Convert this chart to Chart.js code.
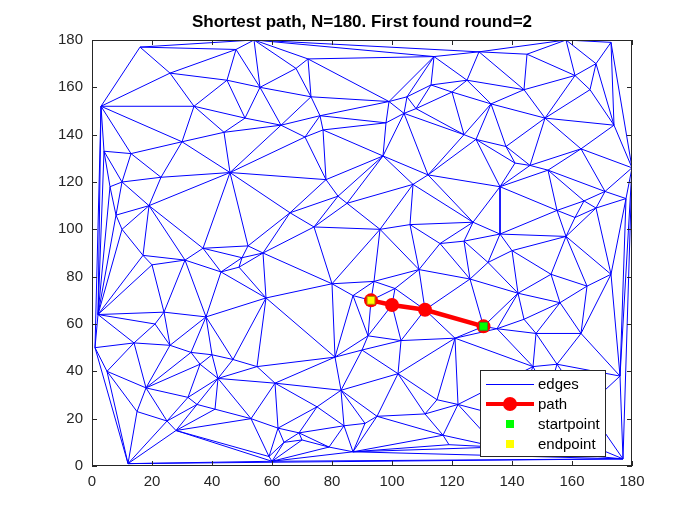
<!DOCTYPE html>
<html>
<head>
  <meta charset="utf-8">
  <title>Shortest path, N=180</title>
  <script src="https://cdn.jsdelivr.net/npm/chart.js"></script>
  <style>
    html, body { margin: 0; padding: 0; background: #fff; }
    #wrap { width: 700px; height: 525px; }
  </style>
</head>
<body>
<div id="wrap"><canvas id="graph"></canvas></div>

<script>
  // node positions
  const nodeX = [16,3,26,48,45,56,34,51,44,30,13,4,46,23,10,54,
    72,68,73,114,113,99,105,104,108,76,98,63,71,77,97,78,112,120,
    158,173,129,145,168,125,144,161,166,133,151,174,124,128,138,163,180,141,146,152,
    6,19,8,10,17,20,31,37,52,50,49,57,43,58,2,24,38,
    107,82,85,66,74,96,106,116,109,80,94,87,93,100,111,101,
    136,171,178,164,168,155,161,127,136,158,124,140,132,153,173,126,165,142,156,144,
    21,1,14,26,33,40,47,55,5,36,42,18,32,35,41,15,25,28,53,61,12,59,60,
    92,103,121,90,81,102,83,75,95,111,115,117,84,91,62,69,70,64,79,87,
    130.5,135,148,163,147,155,176,122,177,119,
    140,160,152,165,135];
  const nodeY = [177,152,166,176,163,160,152,147,141,137,132,133,124,122,120,180,
    172,168,156,173,161,154,156,149,151,148,145,144,139,142,131,121,123,158,
    180,179,175,174,170,163,159,165,159,153,147,144,140,138,135,134,126,128,127,125,
    118,110,106,100,89,85,87,92,93,88,84,90,82,71,64,65,63,
    119,114,111,107,101,100,102,94,83,77,78,72,70,68,66,75,
    118,116,113,112,109,108,105,103,98,97,95,91,86,81,81,79,76,73,69,62,
    60,50,52,51,48,47,45,42,40,43,37,33,29,26,24,23,19,15,20,35,1,4,2,
    55,53,54,49,46,39,32,25,21,22,28,13,17,18,16,14,11,10,8,6,
    59,58,56,56,42,43,38,26,3,9,
    20,12,30,25,8];

  // shortest path (end -> start)
  const pathX = [93, 100, 111, 130.5];
  const pathY = [70, 68, 66, 59];
  const startX = [130.5], startY = [59];
  const endX = [93], endY = [70];

  const xTicks = [0,20,40,60,80,100,120,140,160,180];
  const yTicks = [0,20,40,60,80,100,120,140,160,180];

  // Delaunay triangulation (Bowyer-Watson), like delaunay() in the original
  function triangulate(xs, ys) {
    const n = xs.length;
    const px = xs.slice(), py = ys.slice();
    const M = 1e4;
    px.push(-M, M, 0); py.push(-M, -M, M);
    let tris = [[n, n + 1, n + 2]];
    function inCirc(t, i) {
      const ax = px[t[0]], ay = py[t[0]], bx = px[t[1]], by = py[t[1]], cx = px[t[2]], cy = py[t[2]];
      const d = 2 * (ax * (by - cy) + bx * (cy - ay) + cx * (ay - by));
      const ux = ((ax*ax + ay*ay) * (by - cy) + (bx*bx + by*by) * (cy - ay) + (cx*cx + cy*cy) * (ay - by)) / d;
      const uy = ((ax*ax + ay*ay) * (cx - bx) + (bx*bx + by*by) * (ax - cx) + (cx*cx + cy*cy) * (bx - ax)) / d;
      const r2 = (ax - ux) ** 2 + (ay - uy) ** 2;
      return (px[i] - ux) ** 2 + (py[i] - uy) ** 2 < r2;
    }
    for (let i = 0; i < n; i++) {
      const bad = [], keep = [];
      for (const t of tris) (inCirc(t, i) ? bad : keep).push(t);
      const cnt = new Map();
      for (const t of bad) {
        for (const [a, b] of [[t[0], t[1]], [t[1], t[2]], [t[2], t[0]]]) {
          const k = a < b ? a + ',' + b : b + ',' + a;
          const e = cnt.get(k);
          if (e) e.c++; else cnt.set(k, { a, b, c: 1 });
        }
      }
      for (const e of cnt.values()) if (e.c === 1) keep.push([e.a, e.b, i]);
      tris = keep;
    }
    const seen = new Set(), edges = [];
    for (const t of tris) {
      if (t[0] >= n || t[1] >= n || t[2] >= n) continue;
      for (const [a, b] of [[t[0], t[1]], [t[1], t[2]], [t[2], t[0]]]) {
        const k = a < b ? a + ',' + b : b + ',' + a;
        if (!seen.has(k)) { seen.add(k); edges.push([a, b]); }
      }
    }
    return edges;
  }

  const edgeData = [];
  triangulate(nodeX, nodeY).forEach(([a, b]) => {
    edgeData.push({ x: nodeX[a], y: nodeY[a] }, { x: nodeX[b], y: nodeY[b] }, { x: nodeX[b], y: NaN });
  });
  const xy = (xs, ys) => xs.map((x, i) => ({ x, y: ys[i] }));

  const AX = '#262626';
  const FONT = '"Liberation Sans", Arial, sans-serif';

  // box, inward ticks, title and legend the MATLAB way
  const matlabLook = {
    id: 'matlabLook',
    afterDraw(chart) {
      const { ctx, chartArea: a, scales } = chart;
      ctx.save();
      ctx.strokeStyle = AX;
      ctx.lineWidth = 1;
      ctx.strokeRect(a.left + 0.5, a.top + 0.5, a.right - a.left - 1, a.bottom - a.top - 1);
      ctx.beginPath();
      xTicks.forEach(v => {
        const p = Math.round(scales.x.getPixelForValue(v)) + 0.5;
        ctx.moveTo(p, a.bottom); ctx.lineTo(p, a.bottom - 5);
        ctx.moveTo(p, a.top); ctx.lineTo(p, a.top + 5);
      });
      yTicks.forEach(v => {
        const p = Math.round(scales.y.getPixelForValue(v)) + 0.5;
        ctx.moveTo(a.left, p); ctx.lineTo(a.left + 5, p);
        ctx.moveTo(a.right, p); ctx.lineTo(a.right - 5, p);
      });
      ctx.stroke();

      // title
      ctx.fillStyle = '#000';
      ctx.font = 'bold 17px ' + FONT;
      ctx.textAlign = 'center';
      ctx.textBaseline = 'middle';
      ctx.fillText('Shortest path, N=180. First found round=2', (a.left + a.right) / 2, 22);

      // legend
      const w = 125, h = 86;
      const lx = a.right - 27 - w, ly = a.bottom - 10 - h;
      ctx.fillStyle = '#fff';
      ctx.fillRect(lx, ly, w, h);
      ctx.strokeStyle = AX;
      ctx.strokeRect(lx + 0.5, ly + 0.5, w, h);
      const rows = [
        { label: 'edges', kind: 'line' },
        { label: 'path', kind: 'path' },
        { label: 'startpoint', kind: 'sq', color: '#00ff00' },
        { label: 'endpoint', kind: 'sq', color: '#ffff00' }
      ];
      ctx.font = '15px ' + FONT;
      ctx.textAlign = 'left';
      rows.forEach((r, i) => {
        const y = ly + 14 + i * 20;
        const x0 = lx + 6, x1 = lx + 54, xm = (x0 + x1) / 2;
        if (r.kind === 'line') {
          ctx.strokeStyle = '#0000ff'; ctx.lineWidth = 1;
          ctx.beginPath(); ctx.moveTo(x0, y + 0.5); ctx.lineTo(x1, y + 0.5); ctx.stroke();
        } else if (r.kind === 'path') {
          ctx.strokeStyle = '#ff0000'; ctx.lineWidth = 4;
          ctx.beginPath(); ctx.moveTo(x0, y); ctx.lineTo(x1, y); ctx.stroke();
          ctx.fillStyle = '#ff0000';
          ctx.beginPath(); ctx.arc(xm, y, 7, 0, Math.PI * 2); ctx.fill();
        } else {
          ctx.fillStyle = r.color;
          ctx.fillRect(xm - 4, y - 4, 8, 8);
        }
        ctx.fillStyle = '#000';
        ctx.fillText(r.label, lx + 58, y + 1);
      });
      ctx.restore();
    }
  };

  new Chart(document.getElementById('graph').getContext('2d'), {
    type: 'scatter',
    data: {
      datasets: [
        {
          label: 'edges',
          data: edgeData,
          showLine: true,
          spanGaps: false,
          borderColor: '#0000ff',
          borderWidth: 1,
          pointRadius: 0,
          order: 4
        },
        {
          label: 'path',
          data: xy(pathX, pathY),
          showLine: true,
          borderColor: '#ff0000',
          backgroundColor: '#ff0000',
          borderWidth: 4.5,
          pointRadius: 7,
          pointBorderWidth: 0,
          order: 3
        },
        {
          label: 'startpoint',
          data: xy(startX, startY),
          pointStyle: 'rect',
          backgroundColor: '#00ff00',
          borderColor: '#2e9a1a',
          pointBorderWidth: 1,
          pointRadius: 5.6,
          order: 2
        },
        {
          label: 'endpoint',
          data: xy(endX, endY),
          pointStyle: 'rect',
          backgroundColor: '#ffff00',
          borderColor: '#b08000',
          pointBorderWidth: 1,
          pointRadius: 5.6,
          order: 1
        }
      ]
    },
    options: {
      responsive: true,
      maintainAspectRatio: false,
      animation: false,
      layout: { padding: { top: 40, right: 68, bottom: 29, left: 0 } },
      plugins: {
        legend: { display: false },
        title: { display: false },
        tooltip: { enabled: false }
      },
      scales: {
        x: {
          type: 'linear', min: 0, max: 180,
          afterBuildTicks: s => { s.ticks = xTicks.map(v => ({ value: v })); },
          afterFit: s => { s.height = 30; },
          grid: { display: false, drawTicks: false },
          border: { display: false },
          ticks: { color: AX, font: { family: FONT, size: 15 }, padding: 7, maxRotation: 0 }
        },
        y: {
          type: 'linear', min: 0, max: 180,
          afterBuildTicks: s => { s.ticks = yTicks.map(v => ({ value: v })); },
          afterFit: s => { s.width = 92; },
          grid: { display: false, drawTicks: false },
          border: { display: false },
          ticks: { color: AX, font: { family: FONT, size: 15 }, padding: 9 }
        }
      }
    },
    plugins: [matlabLook]
  });
</script>
</body>
</html>
